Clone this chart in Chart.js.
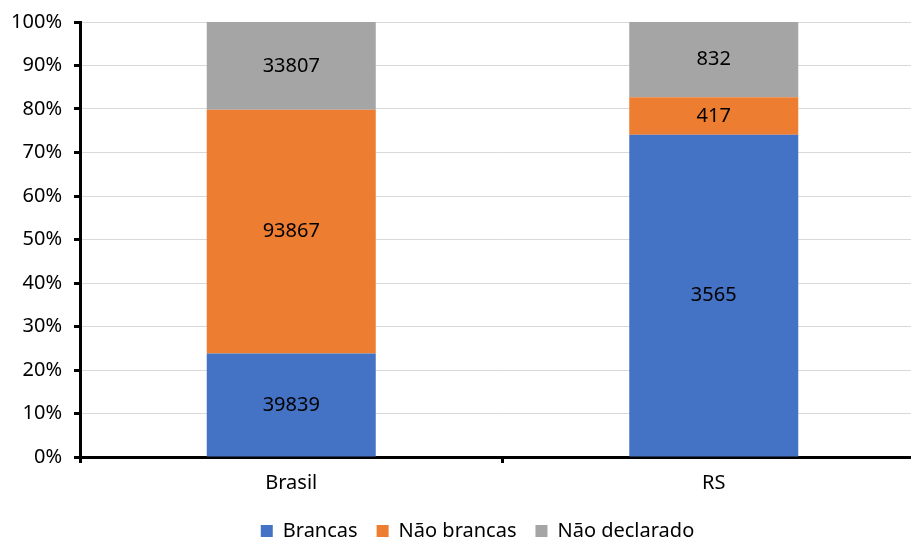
<!DOCTYPE html>
<html>
<head>
<meta charset="utf-8">
<script src="https://cdn.jsdelivr.net/npm/chart.js@4"></script>
<style>
  html, body { margin: 0; padding: 0; background: #fff; overflow: hidden; }
  #wrap { width: 960px; height: 540px; }
</style>
</head>
<body>
<div id="wrap"><canvas id="c" width="960" height="540"></canvas></div>
<script>
const categories = ["Brasil", "RS"];
const brancas = [39839, 3565];
const naoBrancas = [93867, 417];
const naoDeclarado = [33807, 832];
const seriesNames = ["Brancas", "Não brancas", "Não declarado"];
const seriesColors = ["#4472C4", "#ED7D31", "#A5A5A5"];

const counts = [brancas, naoBrancas, naoDeclarado];
const totals = categories.map((_, i) => counts.reduce((s, arr) => s + arr[i], 0));

const datasets = counts.map((arr, k) => ({
  label: seriesNames[k],
  data: arr.map((v, i) => v / totals[i] * 100),
  counts: arr,
  backgroundColor: seriesColors[k],
  borderWidth: 0,
  categoryPercentage: 0.8,
  barPercentage: 0.5
}));

const FONT = "'Noto Sans', 'Open Sans', sans-serif";

const labelPlugin = {
  id: 'segLabels',
  afterLayout(chart) {
    // shift legend to the right to sit where the reference has it
    chart.legend.left += 15;
    chart.legend.right += 15;
  },
  afterDatasetsDraw(chart) {
    const ctx = chart.ctx;
    ctx.save();
    ctx.font = "20px " + FONT;
    ctx.fillStyle = "#000";
    ctx.textAlign = "center";
    ctx.textBaseline = "middle";
    chart.data.datasets.forEach((ds, di) => {
      const meta = chart.getDatasetMeta(di);
      meta.data.forEach((bar, i) => {
        const p = bar.getProps(['x', 'y', 'base'], true);
        ctx.fillText(String(ds.counts[i]), p.x, (p.y + p.base) / 2);
      });
    });
    ctx.restore();
  }
};

new Chart(document.getElementById('c'), {
  type: 'bar',
  data: { labels: categories, datasets },
  options: {
    responsive: false,
    animation: false,
    layout: { padding: { top: 20, right: 35, left: 0, bottom: -11 } },
    plugins: {
      legend: {
        position: 'bottom',
        labels: {
          font: { family: FONT, size: 20 },
          color: '#000',
          boxWidth: 12,
          boxHeight: 12,
          padding: 19
        }
      },
      tooltip: { enabled: false }
    },
    scales: {
      x: {
        stacked: true,
        afterFit(scale) { scale.height = 45; },
        grid: {
          offset: true,
          drawOnChartArea: false,
          drawTicks: true,
          tickLength: 6,
          tickColor: '#000',
          tickWidth: 3
        },
        border: { color: '#000', width: 3 },
        ticks: { color: '#000', font: { family: FONT, size: 20 }, padding: 8 }
      },
      y: {
        stacked: true,
        min: 0,
        max: 100,
        afterFit(scale) { scale.width = 80; },
        grid: {
          color: '#D9D9D9',
          lineWidth: 1,
          tickLength: 6,
          tickColor: '#000',
          tickWidth: 3
        },
        border: { color: '#000', width: 3 },
        ticks: {
          stepSize: 10,
          color: '#000',
          font: { family: FONT, size: 20, lineHeight: 1 },
          padding: 12,
          callback: v => v + '%'
        }
      }
    }
  },
  plugins: [labelPlugin]
});
</script>
</body>
</html>
